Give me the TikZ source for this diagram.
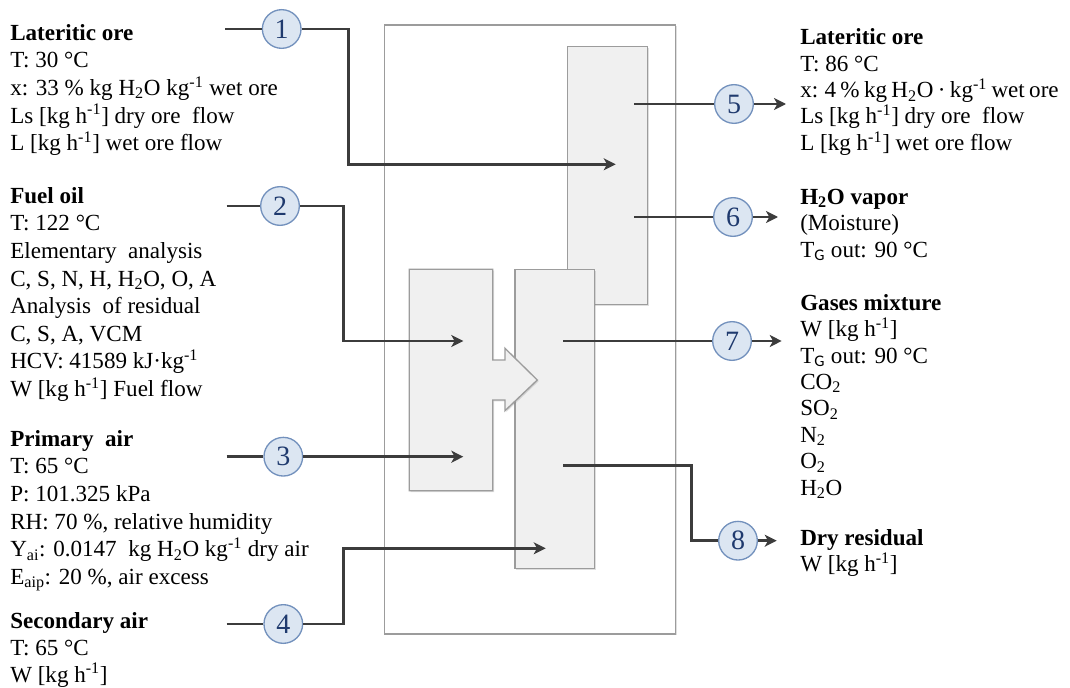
\documentclass[tikz,border=0pt]{standalone}
\usepackage{fontspec}
\setmainfont{Liberation Serif}
\setsansfont{Carlito}
\usepackage{xcolor}
\usetikzlibrary{arrows.meta, positioning, shadows}

\definecolor{boxfill}{HTML}{F0F0F0}
\definecolor{boxline}{HTML}{9C9C9C}
\definecolor{flowline}{HTML}{3C3C3C}
\definecolor{tagfill}{HTML}{DCE6F2}
\definecolor{tagline}{HTML}{7391BD}
\definecolor{tagtext}{HTML}{1F3A6E}

\newcommand{\kgh}{[kg h\textsuperscript{-1}]}
\newcommand{\perkg}{kg\textsuperscript{-1}}
\newcommand{\water}{H\textsubscript{2}O}

\begin{document}
\begin{tikzpicture}[
  x=0.75pt, y=-0.75pt,
  unitbox/.style  = {draw=boxline, line width=1pt, fill=boxfill,
                     drop shadow={shadow xshift=1pt, shadow yshift=-1pt,
                                  opacity=0.25}},
  shellbox/.style = {unitbox, fill=white},
  tag/.style      = {circle, draw=tagline, line width=1pt, fill=tagfill,
                     minimum size=29pt, inner sep=0pt, text=tagtext,
                     font=\fontsize{21}{21}\selectfont},
  info/.style     = {anchor=north west, align=left, inner sep=0pt,
                     font=\fontsize{17.3}{20.7}\selectfont},
  outinfo/.style  = {info, font=\fontsize{17.3}{19.8}\selectfont},
  flow/.style     = {line width=2.2pt, draw=flowline},
  arr/.style      = {flow, -{Stealth[length=9pt, width=9pt, inset=2.5pt]}}
]
\useasboundingbox (0,0) rectangle (1070,688);

% dryer shell and the three chambers
\path[shellbox] (384.7,25) rectangle (675.3,634);
\path[unitbox] (567.7,46.7) rectangle (647.3,304.3);
\path[unitbox] (515,269.3) rectangle (594.3,568.3);
\path[unitbox] (409.3,269.3) -- (492.7,269.3) -- (492.7,360) -- (505,360)
  -- (505,348.3) -- (537.3,380) -- (505,410.7) -- (505,400) -- (492.7,400)
  -- (492.7,490.7) -- (409.3,490.7) -- cycle;

% inlet and outlet points
\coordinate (s1) at (225,29);    \coordinate (k1) at (348.3,164.3);
\coordinate (d1) at (615.7,164.3);
\coordinate (s2) at (226.7,206); \coordinate (k2) at (343.3,341);
\coordinate (d2) at (463.3,341);
\coordinate (s3) at (226.7,456.7);
\coordinate (d3) at (463.3,456.7);
\coordinate (s4) at (226.7,624); \coordinate (k4) at (343.3,548.3);
\coordinate (d4) at (545.7,548.3);
\coordinate (o5) at (634,104);   \coordinate (e5) at (786,104);
\coordinate (o6) at (634,217);   \coordinate (e6) at (778,217);
\coordinate (o7) at (563.3,341); \coordinate (e7) at (781.7,341);
\coordinate (o8) at (563.3,465.7); \coordinate (k8) at (691.7,540.7);
\coordinate (e8) at (776.7,540.7);

% stream tags
\node[tag] (c1) at (281.7,29) {1};
\node[tag] (c2) at (280,206) {2};
\node[tag] (c3) at (283.3,456.7) {3};
\node[tag] (c4) at (283.3,624) {4};
\node[tag] (c5) at (734,104) {5};
\node[tag] (c6) at (733,217) {6};
\node[tag] (c7) at (732,341) {7};
\node[tag] (c8) at (738,540.7) {8};

% inlet streams
\draw[flow] (s1) -- (c1);
\draw[arr] (c1) -| (k1) -- (d1);
\draw[flow] (s2) -- (c2);
\draw[arr] (c2) -| (k2) -- (d2);
\draw[flow] (s3) -- (c3);
\draw[arr] (c3) -- (d3);
\draw[flow] (s4) -- (c4);
\draw[arr] (c4) -| (k4) -- (d4);

% outlet streams
\draw[flow] (o5) -- (c5);
\draw[arr] (c5) -- (e5);
\draw[flow] (o6) -- (c6);
\draw[arr] (c6) -- (e6);
\draw[flow] (o7) -- (c7);
\draw[arr] (c7) -- (e7);
\draw[flow] (o8) -| (k8) -- (c8);
\draw[arr] (c8) -- (e8);

% stream data
\node[info] (ore_in) at (10,24) {\textbf{Lateritic ore}\\
  T: 30 °C\\
  x: 33 \% kg \water{} \perkg{} wet ore\\
  Ls \kgh{} dry ore\ \ flow\\
  L \kgh{} wet ore flow};
\node[info] (fuel) at (10,187) {\textbf{Fuel oil}\\
  T: 122 °C\\
  Elementary\ \ analysis\\
  C, S, N, H, \water, O, A\\
  Analysis\ \ of residual\\
  C, S, A, VCM\\
  HCV: 41589 kJ·\perkg\\
  W \kgh{} Fuel flow};
\node[info] (air1) at (10,430) {\textbf{Primary\ \ air}\\
  T: 65 °C\\
  P: 101.325 kPa\\
  RH: 70 \%, relative humidity\\
  Y\textsubscript{ai}: 0.0147\ \ kg \water{} \perkg{} dry air\\
  E\textsubscript{aip}: 20 \%, air excess};
\node[info, font=\fontsize{17.3}{20.2}\selectfont] (air2) at (10,612)
  {\textbf{Secondary air}\\
  T: 65 °C\\
  W \kgh};
\node[outinfo] (ore_out) at (800,28.5) {\textbf{Lateritic ore}\\
  T: 86 °C\\
  {\spaceskip=0.19em plus 0.05em x: 4 \% kg \water{} · \perkg{} wet ore}\\
  Ls \kgh{} dry ore\ \ flow\\
  L \kgh{} wet ore flow};
\node[outinfo] (vapor) at (800,189) {\textbf{H\textsubscript{2}O vapor}\\
  (Moisture)\\
  T\textsubscript{\sffamily G} out: 90 °C};
\node[outinfo] (gases) at (800,294) {\textbf{Gases mixture}\\
  W \kgh\\
  T\textsubscript{\sffamily G} out: 90 °C\\
  CO\textsubscript{2}\\
  SO\textsubscript{2}\\
  N\textsubscript{2}\\
  O\textsubscript{2}\\
  \water};
\node[outinfo] (residue) at (800,529) {\textbf{Dry residual}\\
  W \kgh};
\end{tikzpicture}
\end{document}
